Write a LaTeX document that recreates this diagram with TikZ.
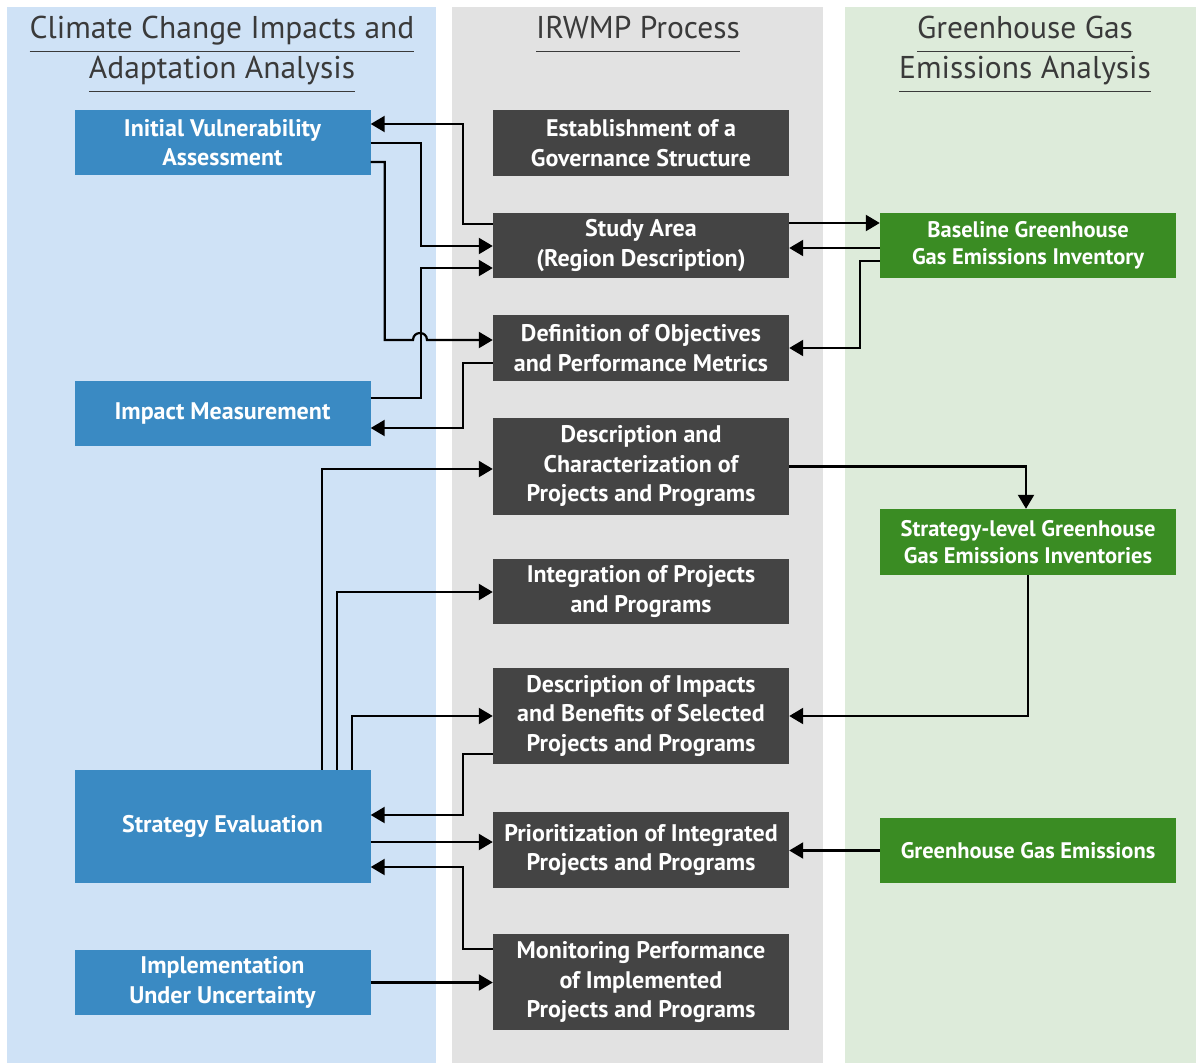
\documentclass[tikz,border=0pt]{standalone}
\usepackage{fontspec}
\setmainfont{PT Sans}
\usetikzlibrary{arrows.meta}

\definecolor{panelblue}{HTML}{CFE2F6}
\definecolor{panelgrey}{HTML}{E2E2E2}
\definecolor{panelgreen}{HTML}{DDEBDA}
\definecolor{boxblue}{HTML}{3A8AC3}
\definecolor{boxdark}{HTML}{444444}
\definecolor{boxgreen}{HTML}{3A8C23}
\definecolor{headgrey}{HTML}{3A3A3A}

% underlined column title
\newcommand{\headline}[1]{\setbox0\hbox{#1}\rlap{\rule[-14pt]{\wd0}{1.5pt}}\box0}

\begin{document}
\begin{tikzpicture}[x=1pt, y=-1pt, >={Triangle[length=14pt,width=16pt]},
    head/.style={anchor=base, inner sep=0pt, text=headgrey, font=\fontsize{31.5}{38}\selectfont},
    box/.style={inner sep=0pt, minimum width=296pt, align=center, text=white,
                font=\bfseries\fontsize{24}{29.5}\selectfont},
    bluebox/.style={box, fill=boxblue},
    darkbox/.style={box, fill=boxdark},
    greenbox/.style={box, fill=boxgreen, font=\bfseries\fontsize{22.5}{27.5}\selectfont},
    link/.style={->, line width=2.2pt}]

\useasboundingbox (0,0) rectangle (1196,1063);

% Column panels
\fill[panelblue] (7,7) rectangle (436,1063);
\fill[panelgrey] (452,7) rectangle (823,1063);
\fill[panelgreen] (845,7) rectangle (1196,1063);

% Column titles
\node[head] (climA) at (222,38) {\headline{Climate Change Impacts and}};
\node[head] (climB) at (222,78) {\headline{Adaptation Analysis}};
\node[head] (irwmp) at (638,38) {\headline{IRWMP Process}};
\node[head] (ghgA) at (1025,38) {\headline{Greenhouse Gas}};
\node[head] (ghgB) at (1025,78) {\headline{Emissions Analysis}};

% Climate change column
\node[bluebox, minimum height=65pt] (ivs) at (222.5,142.5) {Initial Vulnerability\\Assessment};
\node[bluebox, minimum height=65pt] (impact) at (222.5,413.5) {Impact Measurement};
\node[bluebox, minimum height=113pt] (streval) at (222.5,826.5) {Strategy Evaluation};
\node[bluebox, minimum height=65pt] (implem) at (222.5,982.5) {Implementation\\Under Uncertainty};

% IRWMP column
\node[darkbox, minimum height=66pt] (govern) at (641,143) {Establishment of a\\Governance Structure};
\node[darkbox, minimum height=65pt] (study) at (641,245.5) {Study Area\\(Region Description)};
\node[darkbox, minimum height=66pt] (objectives) at (641,348) {Definition of Objectives\\and Performance Metrics};
\node[darkbox, minimum height=97pt] (projects) at (641,466.5) {Description and\\Characterization of\\Projects and Programs};
\node[darkbox, minimum height=65pt] (integration) at (641,591.5) {Integration of Projects\\and Programs};
\node[darkbox, minimum height=96pt] (benefits) at (641,716) {Description of Impacts\\and Benefits of Selected\\Projects and Programs};
\node[darkbox, minimum height=76pt] (priority) at (641,850) {Prioritization of Integrated\\Projects and Programs};
\node[darkbox, minimum height=96pt] (monitoring) at (641,982) {Monitoring Performance\\of Implemented\\Projects and Programs};

% Greenhouse gas column
\node[greenbox, minimum height=65pt] (baseline) at (1028,245.5) {Baseline Greenhouse\\Gas Emissions Inventory};
\node[greenbox, minimum height=66pt] (stratghg) at (1028,542) {Strategy-level Greenhouse\\Gas Emissions Inventories};
\node[greenbox, minimum height=65pt] (ghg) at (1028,850.5) {Greenhouse Gas Emissions};

\coordinate (hop) at (420,340);

% Links to and from the climate column
\draw[link] ([yshift=21.5pt]study.west) -- ++(-30,0) |- ([yshift=18.5pt]ivs.east);
\draw[link] ([yshift=-0.5pt]ivs.east) -- ++(50,0) |- ([yshift=-0.5pt]study.west);
\draw[link] ([yshift=15.5pt]impact.east) -- ++(50,0) |- ([yshift=-22.5pt]study.west);
\draw[link] ([yshift=-19.5pt]ivs.east) -- ++(14,0) |- ([xshift=-7pt]hop)
    .. controls +(0,-9.3) and +(0,-9.3) .. ([xshift=7pt]hop) -- ([yshift=8pt]objectives.west);
\draw[link] ([yshift=-15pt]objectives.west) -- ++(-30,0) |- ([yshift=-14.5pt]impact.east);
\draw[link] ([xshift=99.5pt]streval.north) |- ([yshift=-2.5pt]projects.west);
\draw[link] ([xshift=114.5pt]streval.north) |- ([yshift=-0.5pt]integration.west);
\draw[link] ([xshift=129.5pt]streval.north) |- (benefits.west);
\draw[link] ([yshift=-38pt]benefits.west) -- ++(-30,0) |- ([yshift=11.5pt]streval.east);
\draw[link] ([yshift=-15.5pt]streval.east) -- ([yshift=-15.5pt]streval.east -| priority.west);
\draw[link] ([yshift=33pt]monitoring.west) -- ++(-30,0) |- ([yshift=-40.5pt]streval.east);
\draw[link] (implem.east) -- (implem.east -| monitoring.west);

% Links to and from the greenhouse gas column
\draw[link] ([yshift=22.5pt]study.east) -- ([yshift=22.5pt]study.east -| baseline.west);
\draw[link] ([yshift=-2.5pt]baseline.west) -- ([yshift=-2.5pt]baseline.west -| study.east);
\draw[link] ([yshift=-15.5pt]baseline.west) -- ++(-20,0) |- (objectives.east);
\draw[link] (projects.east) -| ([xshift=-2pt]stratghg.north);
\draw[link] (stratghg.south) |- (benefits.east);
\draw[link] (ghg.west) -- (ghg.west -| priority.east);

\end{tikzpicture}
\end{document}
